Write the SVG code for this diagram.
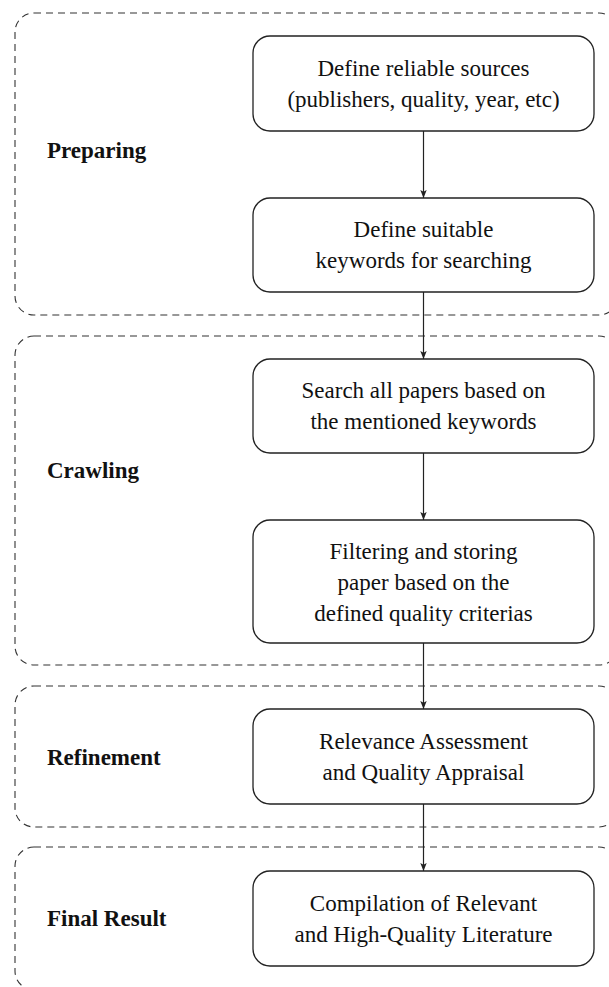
<svg xmlns="http://www.w3.org/2000/svg" width="609" height="987" viewBox="0 0 609 987">
<style>
.grp{fill:none;stroke:#333;stroke-width:1.1;stroke-dasharray:7 5}
.node rect{fill:#fff;stroke:#222;stroke-width:1.3}
.node text{font-family:"Liberation Serif","Times New Roman",serif;font-size:23px;fill:#111;text-anchor:middle}
.lbl{font-family:"Liberation Serif","Times New Roman",serif;font-size:23px;font-weight:bold;fill:#111}
.conn line{stroke:#222;stroke-width:1.2;marker-end:url(#ah)}
</style>
<defs>
<marker id="ah" viewBox="0 0 8 8" refX="8" refY="4" markerWidth="8" markerHeight="8" markerUnits="userSpaceOnUse" orient="auto">
<path d="M0,0.8 L8,4 L0,7.2 L1.8,4 Z" fill="#222"/>
</marker>
</defs>
<rect width="609" height="987" fill="#fff"/>
<g id="group-preparing">
<rect class="grp" x="15" y="13" width="603" height="302" rx="19"/>
<text class="lbl" x="47" y="158">Preparing</text>
</g>
<g id="group-crawling">
<rect class="grp" x="15" y="336" width="603" height="329" rx="19"/>
<text class="lbl" x="47" y="478">Crawling</text>
</g>
<g id="group-refinement">
<rect class="grp" x="15" y="686" width="603" height="141" rx="19"/>
<text class="lbl" x="47" y="765">Refinement</text>
</g>
<g id="group-final">
<rect class="grp" x="15" y="847" width="603" height="143" rx="19"/>
<text class="lbl" x="47" y="926">Final Result</text>
</g>
<g id="node-sources" class="node">
<rect x="253" y="36" width="341" height="95" rx="17"/>
<text x="423.5" y="76">Define reliable sources</text>
<text x="423.5" y="107">(publishers, quality, year, etc)</text>
</g>
<g id="node-keywords" class="node">
<rect x="253" y="198" width="341" height="94" rx="17"/>
<text x="423.5" y="237">Define suitable</text>
<text x="423.5" y="268">keywords for searching</text>
</g>
<g id="node-search" class="node">
<rect x="253" y="359" width="341" height="94" rx="17"/>
<text x="423.5" y="398">Search all papers based on</text>
<text x="423.5" y="429">the mentioned keywords</text>
</g>
<g id="node-filter" class="node">
<rect x="253" y="520" width="341" height="123" rx="17"/>
<text x="423.5" y="559">Filtering and storing</text>
<text x="423.5" y="590">paper based on the</text>
<text x="423.5" y="621">defined quality criterias</text>
</g>
<g id="node-relevance" class="node">
<rect x="253" y="709" width="341" height="95" rx="17"/>
<text x="423.5" y="749">Relevance Assessment</text>
<text x="423.5" y="780">and Quality Appraisal</text>
</g>
<g id="node-compilation" class="node">
<rect x="253" y="871" width="341" height="95" rx="17"/>
<text x="423.5" y="911">Compilation of Relevant</text>
<text x="423.5" y="942">and High-Quality Literature</text>
</g>
<g id="connectors" class="conn">
<line x1="423.5" y1="131" x2="423.5" y2="198"/>
<line x1="423.5" y1="292" x2="423.5" y2="359"/>
<line x1="423.5" y1="453" x2="423.5" y2="520"/>
<line x1="423.5" y1="643" x2="423.5" y2="709"/>
<line x1="423.5" y1="804" x2="423.5" y2="871"/>
</g>
</svg>
